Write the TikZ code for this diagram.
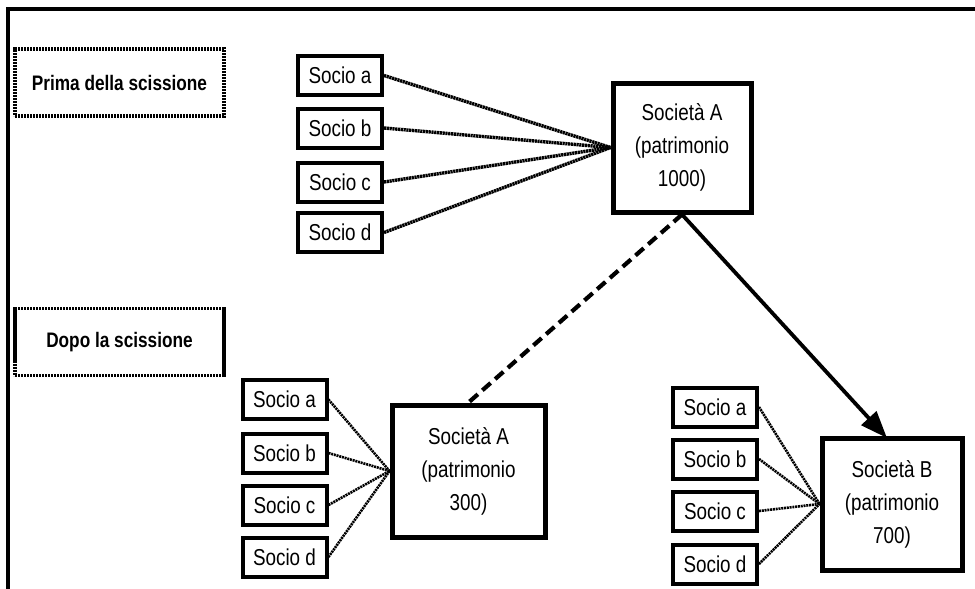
\documentclass[tikz,border=0pt]{standalone}
\usepackage{fontspec}
\setmainfont[FakeStretch=0.82]{Liberation Sans}
\usetikzlibrary{arrows.meta}
\begin{document}
\begin{tikzpicture}[x=1pt,y=-1pt,
  every node/.style={font=\fontsize{23}{33}\selectfont, inner sep=0pt},
  labelbox/.style={draw, line width=3.4pt, dash pattern=on 2.4pt off 0.6pt, minimum width=209pt, minimum height=67pt, font=\fontsize{21}{30}\selectfont\bfseries},
  sociobox/.style={draw, line width=4pt, minimum width=84pt, minimum height=39pt},
  socbox/.style={draw, line width=5pt, align=center},
  link/.style={line width=3.4pt, dash pattern=on 2.2pt off 0.6pt},
  linkthin/.style={line width=2.6pt, dash pattern=on 2pt off 0.8pt}
]
\useasboundingbox (0,0) rectangle (975,589);
\coordinate (fb) at (8,589);
\coordinate (ftl) at (8,9);
\coordinate (ftr) at (975,9);
\draw[line width=3.2pt] (fb) -- (ftl) -- (ftr);

\node[labelbox] (prima) at (119.5,82.5) {Prima della scissione};
\node[labelbox] (dopo) at (119.5,342) {Dopo la scissione};

% top
\node[socbox, minimum width=138pt, minimum height=129pt] (sA) at (682,147.5) {Società A\\(patrimonio\\1000)};
\node[sociobox] (ta) at (340,75.5) {Socio a};
\node[sociobox] (tb) at (340,128) {Socio b};
\node[sociobox] (tc) at (340,182) {Socio c};
\node[sociobox] (td) at (340,232.5) {Socio d};
\foreach \s in {ta,tb,tc,td} \draw[link] (\s.east) -- (sA.west);

% bottom left
\node[socbox, minimum width=153pt, minimum height=132pt] (sA2) at (468.5,471) {Società A\\(patrimonio\\300)};
\node[sociobox] (la) at (284.5,399.5) {Socio a};
\node[sociobox] (lb) at (284.5,453) {Socio b};
\node[sociobox] (lc) at (284.5,505) {Socio c};
\node[sociobox] (ld) at (284.5,557) {Socio d};
\foreach \s in {la,lb,lc,ld} \draw[linkthin] (\s.east) -- (sA2.west);

% bottom right
\node[socbox, minimum width=140pt, minimum height=132pt] (sB) at (892,504) {Società B\\(patrimonio\\700)};
\node[sociobox] (ra) at (715,407) {Socio a};
\node[sociobox] (rb) at (715,459) {Socio b};
\node[sociobox] (rc) at (715,511) {Socio c};
\node[sociobox] (rd) at (715,564) {Socio d};
\foreach \s in {ra,rb,rc,rd} \draw[linkthin] (\s.east) -- (sB.west);

% split connectors
\draw[line width=4.2pt, dash pattern=on 11pt off 6pt] (sA.south) -- (sA2.north);
\coordinate (bt) at (887,438);
\draw[line width=3.8pt, -{Triangle[length=27pt,width=20pt]}] (sA.south) -- (bt);
\end{tikzpicture}
\end{document}
